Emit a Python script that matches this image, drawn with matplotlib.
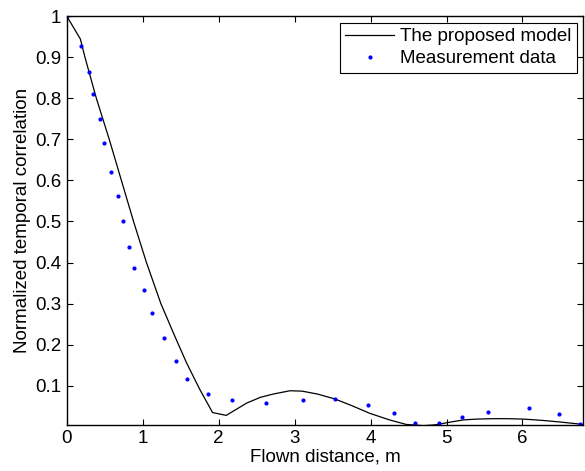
import matplotlib
matplotlib.use("Agg")
import matplotlib.pyplot as plt

plt.rcParams['font.family'] = ['Liberation Sans', 'DejaVu Sans']

# Proposed model curve
model_x = [0, 0.18, 0.24, 0.39, 0.56, 0.72, 0.88, 1.05, 1.24, 1.42, 1.58, 1.75, 1.92,
           2.1, 2.37, 2.55, 2.72, 2.94, 3.1, 3.3, 3.53, 3.75, 3.99, 4.25, 4.47, 4.7,
           4.85, 5.0, 5.22, 5.4, 5.61, 5.8, 6.01, 6.25, 6.49, 6.8]
model_y = [1.0, 0.944, 0.9, 0.8, 0.7, 0.6, 0.5, 0.4, 0.3, 0.222, 0.155, 0.092, 0.035,
           0.028, 0.058, 0.072, 0.080, 0.088, 0.087, 0.080, 0.068, 0.052, 0.033, 0.017,
           0.006, 0.003, 0.005, 0.010, 0.017, 0.019, 0.020, 0.020, 0.019, 0.016, 0.012, 0.006]

# Measurement data
meas_x = [0.01, 0.19, 0.29, 0.35, 0.44, 0.49, 0.58, 0.67, 0.74, 0.82, 0.89, 1.02,
          1.12, 1.28, 1.44, 1.59, 1.86, 2.18, 2.63, 3.11, 3.53, 3.97, 4.31, 4.58,
          4.90, 5.21, 5.54, 6.09, 6.48, 6.76]
meas_y = [1.0, 0.927, 0.864, 0.809, 0.749, 0.692, 0.620, 0.562, 0.501, 0.438, 0.387, 0.332,
          0.277, 0.217, 0.161, 0.117, 0.080, 0.065, 0.057, 0.065, 0.068, 0.054, 0.033, 0.009,
          0.009, 0.024, 0.037, 0.047, 0.031, 0.007]

x_ticks = [0, 1, 2, 3, 4, 5, 6]
y_ticks = [0.1, 0.2, 0.3, 0.4, 0.5, 0.6, 0.7, 0.8, 0.9, 1.0]
y_ticklabels = ['0.1', '0.2', '0.3', '0.4', '0.5', '0.6', '0.7', '0.8', '0.9', '1']

fig = plt.figure(figsize=(5.85, 4.71), dpi=100)
ax = fig.add_axes([0.114, 0.098, 0.883, 0.868])

ax.plot(model_x, model_y, color='black', linewidth=0.9, label='The proposed model')
ax.plot(meas_x, meas_y, linestyle='none', marker='o', markersize=2.0,
        color=(0, 0, 1), label='Measurement data')

ax.set_xlim(0, 6.8)
ax.set_ylim(0.005, 1.0)
ax.set_xticks(x_ticks)
ax.set_yticks(y_ticks)
ax.set_yticklabels(y_ticklabels)
ax.tick_params(direction='in', top=True, right=True, length=4, width=0.8,
               labelsize=13.5, pad=4)
for s in ax.spines.values():
    s.set_linewidth(1.0)

ax.set_xlabel('Flown distance, m', fontsize=13.5, labelpad=1)
ax.set_ylabel('Normalized temporal correlation', fontsize=13.5, labelpad=3)

leg = ax.legend(loc='upper right', fontsize=13.5, frameon=True, fancybox=False,
                edgecolor='black', framealpha=1, borderpad=0.3, labelspacing=0.25,
                handlelength=2.6, handletextpad=0.3, borderaxespad=0.35)
leg.get_frame().set_linewidth(0.8)

fig.savefig('out.png', dpi=100)
